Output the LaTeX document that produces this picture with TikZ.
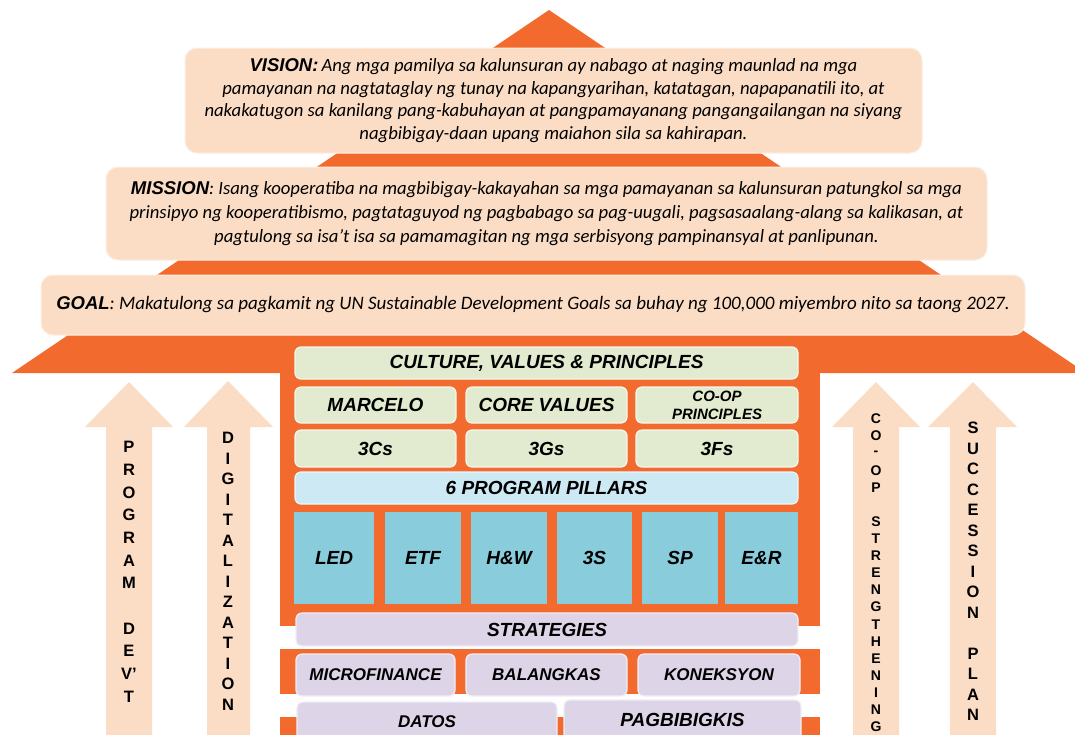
\documentclass[tikz,border=0pt]{standalone}
\usepackage{fontspec}
\setmainfont{Carlito}
\newfontfamily\labfont{Liberation Sans}
\definecolor{roofc}{RGB}{242,106,45}
\definecolor{peach}{RGB}{251,221,197}
\definecolor{sage}{RGB}{226,235,207}
\definecolor{skyl}{RGB}{205,233,243}
\definecolor{pillarc}{RGB}{137,205,221}
\definecolor{lav}{RGB}{221,212,232}
\newcommand\hd[1]{{\labfont\bfseries\itshape\fontsize{18.5}{0}\selectfont #1}}
\begin{document}
\begin{tikzpicture}[x=1pt,y=-1pt,
  every node/.style={inner sep=0pt, outer sep=0pt},
  bigbox/.style={fill=peach, draw=peach!50!white, line width=1pt, rounded corners=12pt, align=center,
    font=\itshape\fontsize{18.7}{22.7}\selectfont},
  lblfont/.style={font=\labfont\bfseries\itshape\fontsize{19}{22}\selectfont},
  gbox/.style={fill=sage, draw=sage!40!white, line width=1.2pt, rounded corners=6pt, align=center, lblfont},
  bbox/.style={fill=skyl, draw=skyl!40!white, line width=1.2pt, rounded corners=6pt, align=center, lblfont},
  pil/.style={fill=pillarc, align=center, lblfont},
  lbox/.style={fill=lav, draw=lav!40!white, line width=1.2pt, rounded corners=6pt, align=center, lblfont},
  arrowc/.style={fill=peach},
  vlet/.style={font=\labfont\bfseries\fontsize{16.5}{16}\selectfont},
  vlets/.style={font=\labfont\bfseries\fontsize{14}{14}\selectfont}
]
\useasboundingbox (0,0) rectangle (1075,734);
\fill[white] (0,0) rectangle (1075,734);
\begin{scope}
\clip (0,0) rectangle (1075,734);
% roof
\fill[roofc] (549,10) -- (1086,373) -- (12,373) -- cycle;
% house body bands
\fill[roofc] (280,340) rectangle (820,626);
\fill[roofc] (280,649) rectangle (820,694);
\fill[roofc] (280,717) rectangle (820,745);
% arrows
\fill[arrowc] (106,745) -- (106,427) -- (85,427) -- (129,382) -- (173,427) -- (152,427) -- (152,745) -- cycle;
\fill[arrowc] (207,745) -- (207,427) -- (184,427) -- (228,381) -- (273,427) -- (250,427) -- (250,745) -- cycle;
\fill[arrowc] (853,745) -- (853,427) -- (832,427) -- (876,382) -- (920,427) -- (899,427) -- (899,745) -- cycle;
\fill[arrowc] (950,745) -- (950,427) -- (928,427) -- (973,382) -- (1017,427) -- (996,427) -- (996,745) -- cycle;

% big peach boxes
\node[bigbox, minimum width=737pt, minimum height=105pt] (vision) at (553.5,100.5)
  {\hd{VISION:}\,Ang mga pamilya sa kalunsuran ay nabago at naging maunlad na mga\\
   pamayanan na nagtataglay ng tunay na kapangyarihan, katatagan, napapanatili ito, at\\
   nakakatugon sa kanilang pang-kabuhayan at pangpamayanang pangangailangan na siyang\\
   nagbibigay-daan upang maiahon sila sa kahirapan.};
\node[bigbox, minimum width=881pt, minimum height=93pt, font=\itshape\fontsize{18.7}{24}\selectfont] (mission) at (546.5,213.5)
  {\hd{MISSION}: Isang kooperatiba na magbibigay-kakayahan sa mga pamayanan sa kalunsuran patungkol sa mga\\
   prinsipyo ng kooperatibismo, pagtataguyod ng pagbabago sa pag-uugali, pagsasaalang-alang sa kalikasan, at\\
   pagtulong sa isa't isa sa pamamagitan ng mga serbisyong pampinansyal at panlipunan.};
\node[bigbox, minimum width=984pt, minimum height=60pt, font=\itshape\fontsize{19}{22}\selectfont] (goal) at (533,305)
  {\hd{GOAL}: Makatulong sa pagkamit ng UN Sustainable Development Goals sa buhay ng 100,000 miyembro nito sa taong 2027.};

% culture rows
\node[gbox, minimum width=503pt, minimum height=32pt] (cvp) at (546.5,363) {CULTURE, VALUES \& PRINCIPLES};
\node[gbox, minimum width=161pt, minimum height=36pt] (marcelo) at (375.5,405) {MARCELO};
\node[gbox, minimum width=161pt, minimum height=36pt] (core) at (546.5,405) {CORE VALUES};
\node[gbox, minimum width=162pt, minimum height=36pt, font=\labfont\bfseries\itshape\fontsize{15}{18}\selectfont] (coop) at (717,405) {CO-OP\\PRINCIPLES};
\node[gbox, minimum width=161pt, minimum height=37pt] (c3) at (375.5,448.5) {3Cs};
\node[gbox, minimum width=161pt, minimum height=37pt] (g3) at (546.5,448.5) {3Gs};
\node[gbox, minimum width=162pt, minimum height=37pt] (f3) at (717,448.5) {3Fs};

% pillars
\node[bbox, minimum width=503pt, minimum height=32pt] (pillars) at (546.5,488) {6 PROGRAM PILLARS};
\node[pil, minimum width=80pt, minimum height=92pt] (led) at (334,558) {LED};
\node[pil, minimum width=76pt, minimum height=92pt] (etf) at (423,558) {ETF};
\node[pil, minimum width=76pt, minimum height=92pt] (hw) at (509,558) {H\&W};
\node[pil, minimum width=75pt, minimum height=92pt] (s3) at (594.5,558) {3S};
\node[pil, minimum width=76pt, minimum height=92pt] (sp) at (680,558) {SP};
\node[pil, minimum width=73pt, minimum height=92pt] (er) at (761.5,558) {E\&R};

% strategies
\node[lbox, minimum width=502pt, minimum height=33pt] (strat) at (547,629.5) {STRATEGIES};
\node[lbox, minimum width=159pt, minimum height=42pt, font=\labfont\bfseries\itshape\fontsize{17}{20}\selectfont] (micro) at (375.5,675) {MICROFINANCE};
\node[lbox, minimum width=161pt, minimum height=42pt, font=\labfont\bfseries\itshape\fontsize{17}{20}\selectfont] (balang) at (546.5,675) {BALANGKAS};
\node[lbox, minimum width=162pt, minimum height=42pt, font=\labfont\bfseries\itshape\fontsize{17}{20}\selectfont] (konek) at (719,675) {KONEKSYON};
\node[lbox, minimum width=260pt, minimum height=40pt, font=\labfont\bfseries\itshape\fontsize{17}{20}\selectfont] (datos) at (427,722) {DATOS};
\node[lbox, minimum width=237pt, minimum height=40pt] (pagbi) at (682.5,720) {PAGBIBIGKIS};

% vertical letters
\foreach \l [count=\i from 0] in {P,R,O,G,R,A,M,{},D,E,{V’},T}
  \node[vlet] (pd\i) at (129,447+\i*22.7) {\l};
\foreach \l [count=\i from 0] in {D,I,G,I,T,A,L,I,Z,A,T,I,O,N}
  \node[vlet] (dg\i) at (228,438+\i*20.5) {\l};
\foreach \l [count=\i from 0] in {C,O,-,O,P,{},S,T,R,E,N,G,T,H,E,N,I,N,G}
  \node[vlets] (cs\i) at (876,419+\i*17.1) {\l};
\foreach \l [count=\i from 0] in {S,U,C,C,E,S,S,I,O,N,{},P,L,A,N}
  \node[vlet] (sp\i) at (973,428+\i*20.5) {\l};
\end{scope}
\end{tikzpicture}
\end{document}
